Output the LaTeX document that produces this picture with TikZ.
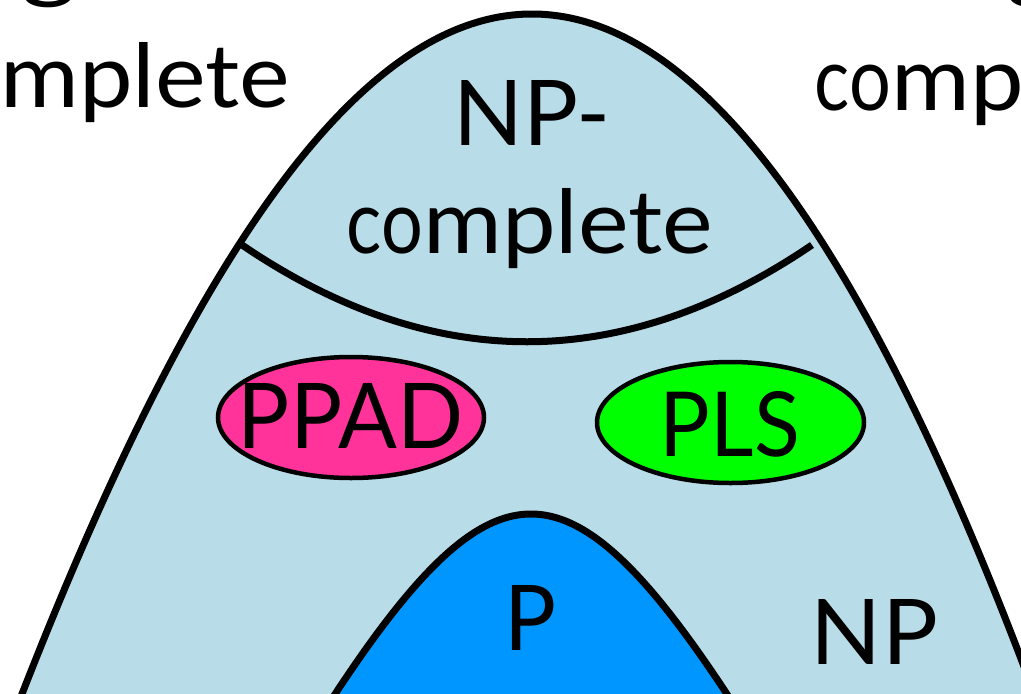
\documentclass[tikz,border=0pt]{standalone}
\usepackage{fontspec}
\setmainfont{Lato}
\usepackage{graphicx}
\definecolor{npfill}{RGB}{185,221,232}
\definecolor{pfill}{RGB}{0,150,255}
\definecolor{ppadfill}{RGB}{255,51,153}
\definecolor{plsfill}{RGB}{0,255,0}
% text box stretched to a given width and height (in pt)
\newcommand{\fitt}[3]{\resizebox{#1pt}{#2pt}{#3}}
% the word "complete", with narrow round letters in front
\newcommand{\cmplword}{\fitt{366}{65}{\scalebox{0.77}[1]{co}mplete}}
\tikzset{
  lbl/.style={inner sep=0pt, outer sep=0pt, anchor=base},
  region/.style={draw=black, line width=7pt},
  classblob/.style={draw=black, line width=4.5pt},
}
\begin{document}
\begin{tikzpicture}[x=1pt,y=-1pt]
\useasboundingbox (0,0) rectangle (1021,694);
\clip (0,0) rectangle (1021,694);

% NP region
\filldraw[region, fill=npfill]
  plot[domain=-5.6:5.6, samples=241, variable=\v]
  ({532+100*\v},{14+27.2*\v*\v-ifthenelse(\v<0,0.0407,0.01)*\v*\v*\v*\v}) -- cycle;

% boundary of the NP-complete cap
\coordinate (capL) at (242,245);
\coordinate (capR) at (812,245);
\draw[line width=7pt] (capL) .. controls (432,374) and (622,374) .. (capR);

% P region
\filldraw[region, fill=pfill]
  plot[domain=-270:270, samples=200, variable=\u]
  ({531+\u},{514+342.5*(sqrt(1+(\u/170)^2)-1)}) -- cycle;

% PPAD and PLS
\filldraw[classblob, fill=ppadfill] (351,417.5) ellipse [x radius=133, y radius=60.5];
\filldraw[classblob, fill=plsfill] (730.5,422.5) ellipse [x radius=133.5, y radius=60.5];

% labels
\node[lbl] (npcA) at (531.5,145) {\fitt{157}{65}{NP-}};
\node[lbl] (npcB) at (530,253) {\cmplword};
\node[lbl] (ppad) at (350.5,448) {\fitt{225}{65}{PPAD}};
\node[lbl] (pls) at (730,456) {\fitt{140}{65}{PLS}};
\node[lbl] (pl) at (531,650) {\fitt{52}{65}{P}};
\node[lbl] (npl) at (874.5,664) {\fitt{127}{65}{NP}};

% neighbouring captions
\node[lbl] (leftB) at (107,107) {\cmplword};
\node[lbl] (leftA) at (50,-9) {\fitt{56}{46}{g}};
\node[lbl] (rightB) at (998,110) {\cmplword};
\node[lbl] (rightA) at (1034,-9) {\fitt{56}{46}{g}};
\end{tikzpicture}
\end{document}
